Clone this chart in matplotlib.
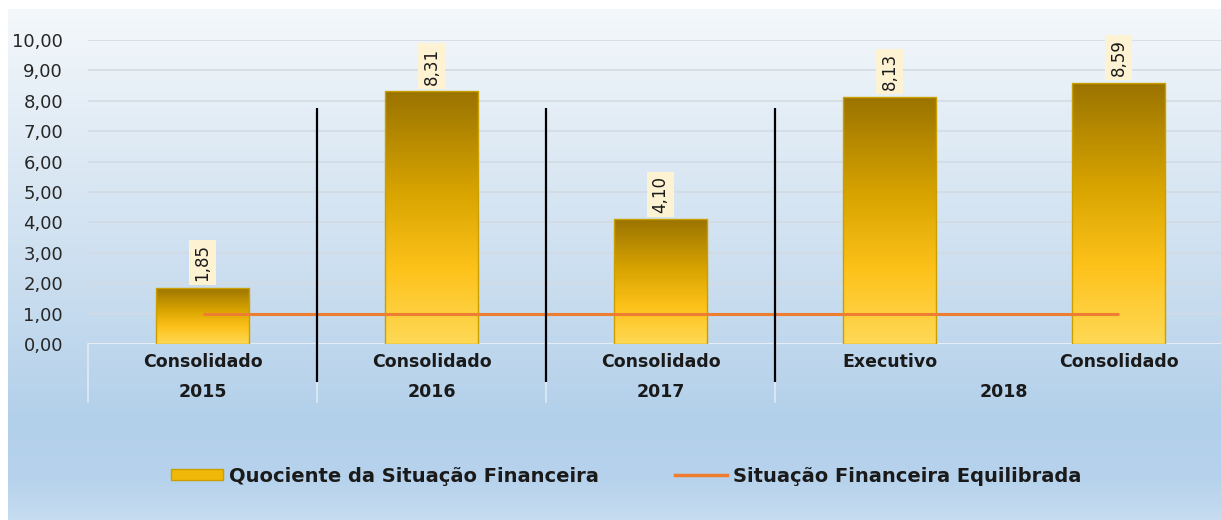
import numpy as np
import matplotlib
matplotlib.use("Agg")
import matplotlib.pyplot as plt
from matplotlib.colors import LinearSegmentedColormap
from matplotlib.patches import Rectangle
from matplotlib.lines import Line2D

# ---- data ----
categories = ["Consolidado", "Consolidado", "Consolidado", "Executivo", "Consolidado"]
years = ["2015", "2016", "2017", "2018"]
year_positions = [0, 1, 2, 3.5]
quociente = [1.85, 8.31, 4.10, 8.13, 8.59]
equilibrada = [1.0, 1.0, 1.0, 1.0, 1.0]
yticks = [0, 1, 2, 3, 4, 5, 6, 7, 8, 9, 10]
group_separators = [0.5, 1.5, 2.5]
label_series = "Quociente da Situação Financeira"
label_line = "Situação Financeira Equilibrada"

plt.rcParams['font.family'] = ['DejaVu Sans']

W, H = 1221, 520
fig = plt.figure(figsize=(W / 100, H / 100), dpi=100)
fig.patch.set_facecolor("white")

# background gradient
bg = fig.add_axes([8 / W, 0, 1 - 8 / W, 1 - 9 / H])
bg.set_axis_off()
bg_cmap = LinearSegmentedColormap.from_list(
    "bg", [(0.0, "#c6dcf0"), (0.08, "#b6d2ec"), (0.2, "#b3d0ea"),
           (0.45, "#c9ddef"), (0.75, "#e0ebf5"), (1.0, "#f4f8fb")])
grad = np.linspace(0, 1, 256).reshape(-1, 1)
bg.imshow(grad, aspect="auto", cmap=bg_cmap, origin="lower", extent=[0, 1, 0, 1])
bg.set_xlim(0, 1)
bg.set_ylim(0, 1)

# main axes
left = 88 / W
right = 1233 / W
bottom = (H - 344) / H
top = (H - 40) / H
ax = fig.add_axes([left, bottom, right - left, top - bottom])
ax.set_facecolor("none")
x = np.arange(len(categories))

for s in ax.spines.values():
    s.set_visible(False)
ax.set_yticks(yticks)
ax.set_yticklabels([f"{v:.2f}".replace(".", ",") for v in yticks], fontsize=13, color="#262626")
ax.tick_params(axis="y", length=0, pad=18)
ax.set_xticks([])
for v in yticks[1:]:
    ax.axhline(v, color="#d3dbe3", lw=1.2, zorder=0)
ax.axhline(0, color="#e6edf4", lw=1.5, zorder=0)

# bars with gradient
bars = ax.bar(x, quociente, width=0.41, color="none", edgecolor="#c9a000", lw=1.0, zorder=2)
bar_cmap = LinearSegmentedColormap.from_list(
    "bar", [(0.0, "#ffd856"), (0.3, "#fdc21a"), (0.6, "#d8a400"), (1.0, "#9a7300")])
for b in bars:
    x0, y0 = b.get_x(), b.get_y()
    w, h = b.get_width(), b.get_height()
    im = ax.imshow(grad, aspect="auto", cmap=bar_cmap, origin="lower",
                   extent=[x0, x0 + w, y0, y0 + h], zorder=1.9)
    im.set_clip_path(b)
ax.set_xlim(-0.5, len(categories) - 0.5)
ax.set_ylim(0, 10)

# data labels
for xi, v in zip(x, quociente):
    ax.text(xi, v + 0.22, f"{v:.2f}".replace(".", ","), rotation=90, ha="center", va="bottom",
            fontsize=12, color="#1a1a1a", zorder=5, clip_on=False,
            bbox=dict(boxstyle="square,pad=0.25", facecolor="#fdf2d2", edgecolor="none"))

# reference line
ax.plot(x, equilibrada, color="#ed7d31", lw=2.2, zorder=3, solid_capstyle="butt")

# black separators
ax.vlines(group_separators, -1.25, 7.75, color="black", lw=1.6, zorder=4, clip_on=False)

# category axis labels
xt = ax.get_xaxis_transform()
for xi, c in zip(x, categories):
    ax.text(xi, -18 / 304, c, transform=xt, ha="center", va="center",
            fontsize=12.5, fontweight="bold", color="#1a1a1a")
for xp, yr in zip(year_positions, years):
    ax.text(xp, -48 / 304, yr, transform=xt, ha="center", va="center",
            fontsize=12.5, fontweight="bold", color="#1a1a1a")
for sx in [-0.5] + group_separators:
    ax.plot([sx, sx], [0, -58 / 304], transform=xt, color="#e3eaf1", lw=1.2,
            clip_on=False, zorder=0)

# legend
handles = [Rectangle((0, 0), 1, 1, facecolor="#f0b808", edgecolor="#c9a000", lw=1),
           Line2D([0], [0], color="#ed7d31", lw=2.5)]
leg = fig.legend(handles, [label_series, label_line], loc="center",
                 bbox_to_anchor=(626 / W, 1 - 476 / H), ncol=2, frameon=False,
                 prop=dict(size=14, weight="bold"), handlelength=2.7, handleheight=0.5,
                 handletextpad=0.3, columnspacing=3.9)
for t in leg.get_texts():
    t.set_color("#1a1a1a")

fig.savefig("out.png", dpi=100, facecolor=fig.get_facecolor())
